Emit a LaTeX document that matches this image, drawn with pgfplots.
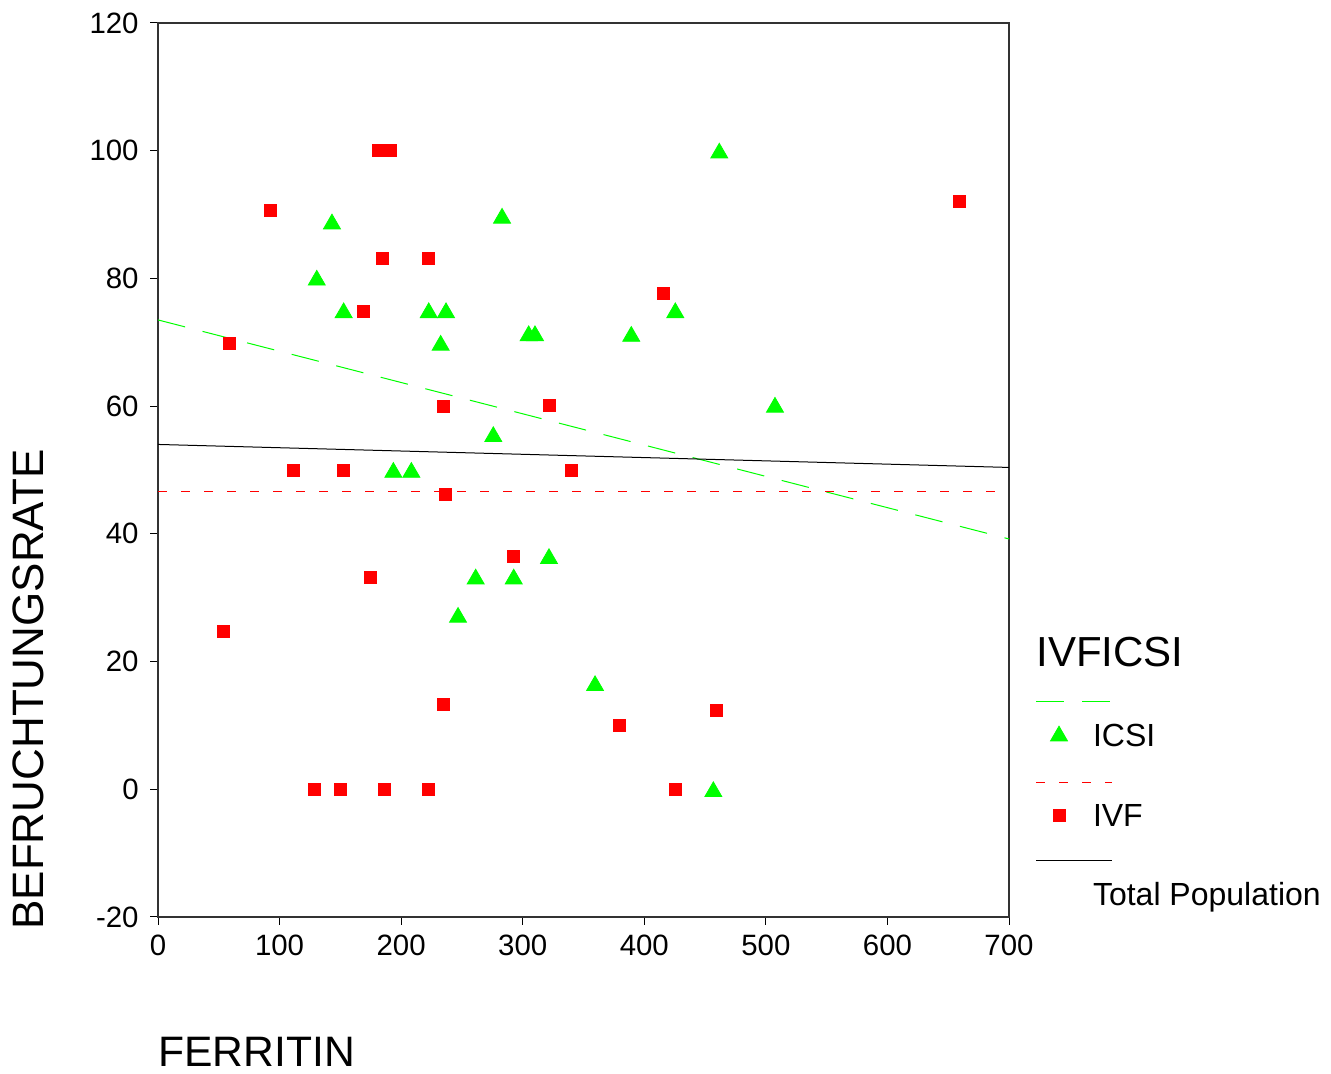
\documentclass[border=0pt]{standalone}
\usepackage{pgfplots}
\pgfplotsset{compat=1.18}
\usepackage{fontspec}
\setmainfont{Liberation Sans}

\pgfplotstableread{
x y
143.1 88.9
130.6 80.1
152.7 75.0
283.0 89.8
222.7 75.0
236.9 75.0
232.5 69.9
304.9 71.4
310.1 71.4
389.3 71.3
425.5 75.0
461.7 100.0
507.5 60.2
275.8 55.6
193.6 50.0
208.4 50.0
321.6 36.5
261.3 33.3
292.6 33.3
246.8 27.3
359.5 16.6
456.8 0.0
}\icsi

\pgfplotstableread{
x y
181.5 100.0
191.4 100.0
92.4 90.7
659.5 92.1
184.3 83.2
222.7 83.2
169.2 74.9
415.7 77.7
58.7 69.8
234.7 60.0
321.6 60.1
111.3 49.9
152.5 49.9
340.3 49.9
236.1 46.2
292.6 36.4
174.4 33.2
53.7 24.8
234.7 13.3
379.5 10.0
459.2 12.4
128.3 0.0
150.3 0.0
186.5 0.0
222.7 0.0
425.3 0.0
}\ivf

\definecolor{spssgreen}{RGB}{0,255,0}
\definecolor{spssred}{RGB}{255,0,0}

\newcommand{\legwidth}{\pgfpathmoveto{\pgfpointorigin}\pgfpathlineto{\pgfpoint{28.5pt}{0pt}}\pgfusepath{discard}}

\begin{document}
\begin{tikzpicture}
\useasboundingbox (0,0) rectangle (665.5pt,537pt);
\begin{axis}[
  at={(79pt,78.5pt)}, anchor=south west,
  scale only axis, width=425.5pt, height=447pt,
  xmin=0, xmax=700, ymin=-20, ymax=120,
  xtick={0,100,...,700}, ytick={-20,0,...,120},
  tick pos=left, tick align=outside, major tick length=4pt,
  tick style={black, line width=0.5pt},
  axis line style={black!80, line width=0.7pt},
  /pgf/number format/assume math mode=true,
  scaled ticks=false,
  ticklabel style={font=\fontsize{14.7}{17}\selectfont, inner sep=0pt},
  yticklabel style={anchor=east, xshift=-5.5pt},
  xticklabel style={anchor=north, yshift=-5pt},
  legend style={at={(1,0)}, anchor=south west, xshift=13.5pt, yshift=5.5pt,
    draw=none, fill=none, inner sep=0pt, outer sep=0pt,
    row sep=27.8pt, column sep=0pt,
    nodes={inner sep=0pt, outer sep=0pt, text height=12pt, text depth=0pt,
      font=\fontsize{16}{19}\selectfont},
    cells={anchor=base west}},
]
% fit lines
\addplot[spssgreen, line width=0.5pt, dash pattern=on 14pt off 9pt, forget plot] coordinates {(0,73.5) (700,39.2)};
\addplot[spssred, line width=0.55pt, dash pattern=on 4.5pt off 7pt, forget plot] coordinates {(0,46.7) (700,46.7)};
\addplot[black, line width=0.5pt, forget plot] coordinates {(0,54.0) (700,50.4)};
% scatter
\addplot[only marks, mark=triangle*, mark size=4.9pt, color=spssgreen,
  mark options={fill=spssgreen, draw=spssgreen, yshift=-1.2pt}, forget plot] table[x=x,y=y] {\icsi};
\addplot[only marks, mark=square*, mark size=3pt, color=spssred,
  mark options={fill=spssred, draw=spssred}, forget plot] table[x=x,y=y] {\ivf};
% legend
\addlegendimage{legend image code/.code={
  \draw[spssgreen, line width=0.5pt, dash pattern=on 14pt off 9pt, overlay] (0pt,22.6pt) -- (38pt,22.6pt);
  \draw[spssgreen, fill=spssgreen, mark=triangle*, mark size=4.9pt, mark options={yshift=-1.2pt}] plot coordinates {(11.5pt,6.6pt)};
  \legwidth
}}
\addlegendentry{ICSI}
\addlegendimage{legend image code/.code={
  \draw[spssred, line width=0.55pt, dash pattern=on 4.5pt off 7pt, overlay] (0pt,21.8pt) -- (38pt,21.8pt);
  \draw[spssred, fill=spssred, mark=square*, mark size=3pt] plot coordinates {(11.5pt,5.5pt)};
  \legwidth
}}
\addlegendentry{IVF}
\addlegendimage{legend image code/.code={
  \draw[black, line width=0.5pt, overlay] (0pt,22.5pt) -- (38pt,22.5pt);
  \legwidth
}}
\addlegendentry{Total Population}
\end{axis}
\node[anchor=base west, inner sep=0pt, font=\fontsize{21.3}{25}\selectfont] at (79pt,3.5pt) {FERRITIN};
\node[rotate=90, anchor=base west, inner sep=0pt, font=\fontsize{22}{26}\selectfont] at (21.5pt,72pt) {BEFRUCHTUNGSRATE};
\node[anchor=base west, inner sep=0pt, font=\fontsize{21}{25}\selectfont] at (518pt,203.5pt) {IVFICSI};
\end{tikzpicture}
\end{document}
